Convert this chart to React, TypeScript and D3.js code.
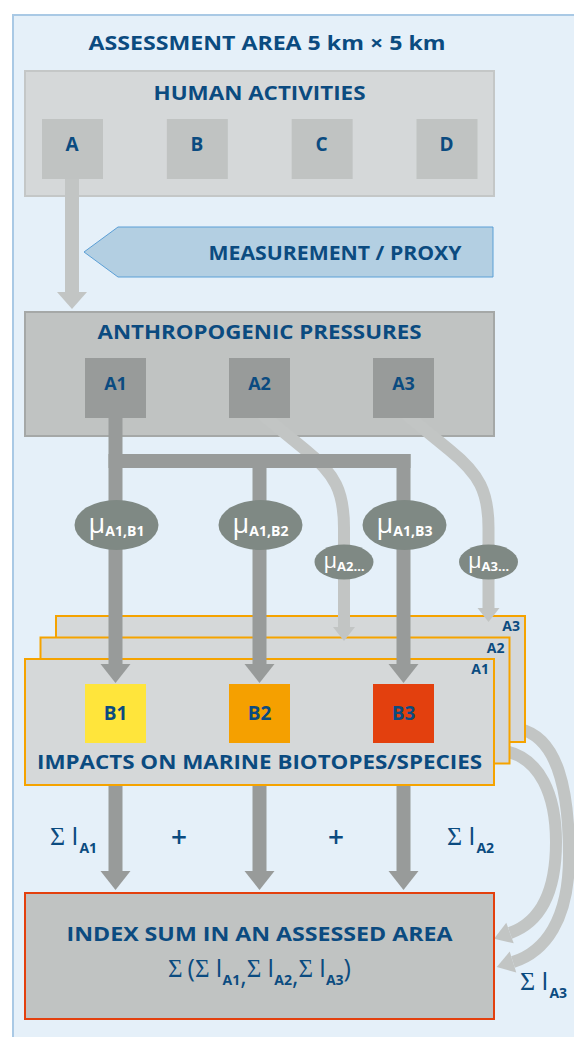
import React from "react";
import * as d3 from "d3";

// diagram content
const title = "ASSESSMENT AREA 5 km × 5 km";
const activities = ["A", "B", "C", "D"];
const pressures = ["A1", "A2", "A3"];
const biotopes = ["B1", "B2", "B3"];
const directFactors = ["A1,B1", "A1,B2", "A1,B3"];
const otherFactors = ["A2…", "A3…"];
const layers = ["A3", "A2", "A1"];
const sumLabels = ["A1", "A2", "A3"];

const biotopeFill = ["#ffe53b", "#f5a000", "#e3400e"];

const BLUE = "#0b4b80";
const LIGHT = "#c2c5c4";
const DARK = "#989b9a";
const FONT = "'Open Sans', 'Noto Sans', sans-serif";
const SIGMA = "'Liberation Serif', 'DejaVu Serif', serif";

const BOX_X = 25;
const BOX_W = 469;
const CX = BOX_X + BOX_W / 2;

const xAct = d3.scaleLinear().domain([0, activities.length - 1]).range([72, 446.5]);
const xCol = d3.scaleLinear().domain([0, pressures.length - 1]).range([115.5, 403.5]);

const downHead = (cx: number, top: number, w: number, h: number) =>
  `M${cx - w / 2},${top}L${cx + w / 2},${top}L${cx},${top + h}Z`;

// arrow head at end of a curve, pointing along (dx,dy)
const headAt = (x: number, y: number, dx: number, dy: number, len: number, half: number) => {
  const n = Math.hypot(dx, dy);
  const ux = dx / n, uy = dy / n;
  const px = -uy, py = ux;
  return `M${x + px * half},${y + py * half}L${x + ux * len},${y + uy * len}L${x - px * half},${y - py * half}Z`;
};

const Heading: React.FC<{ x: number; y: number; text: string; size: number; len?: number }> = ({ x, y, text, size, len }) => (
  <text
    x={x}
    y={y}
    textAnchor="middle"
    fontFamily={FONT}
    fontWeight={700}
    fontSize={size}
    fill={BLUE}
    textLength={len}
    lengthAdjust={len ? "spacingAndGlyphs" : undefined}
  >
    {text}
  </text>
);

const SumLabel: React.FC<{ x: number; y: number; sub: string; anchor?: string }> = ({ x, y, sub, anchor }) => (
  <text x={x} y={y} fill={BLUE} textAnchor={anchor || "start"}>
    <tspan fontFamily={SIGMA} fontSize={26}>Σ</tspan>
    <tspan fontFamily={FONT} fontSize={26} dx={6}>I</tspan>
    <tspan fontFamily={FONT} fontSize={14} fontWeight={700} dy={8} dx={1}>{sub}</tspan>
  </text>
);

const App: React.FC = () => {
  const lightPath = (x0: number, xv: number, yEnd: number) => {
    const p = d3.path();
    p.moveTo(x0, 414);
    p.lineTo(x0 + 44, 450);
    p.bezierCurveTo(x0 + 74, 474, xv, 492, xv, 528);
    p.lineTo(xv, yEnd);
    return p.toString();
  };

  const innerCurve = d3.path();
  innerCurve.moveTo(505, 751);
  innerCurve.bezierCurveTo(540, 758, 556, 795, 556, 842);
  innerCurve.bezierCurveTo(556, 895, 538, 923, 510, 933);

  const outerCurve = d3.path();
  outerCurve.moveTo(520, 729);
  outerCurve.bezierCurveTo(558, 738, 569, 790, 569, 856);
  outerCurve.bezierCurveTo(569, 920, 545, 952, 513, 962);

  return (
    <svg width={574} height={1037} style={{ position: "absolute", left: 0, top: 0 }}>
      {/* assessment panel */}
      <rect x={0} y={0} width={574} height={1037} fill="#ffffff" />
      <rect x={13} y={15} width={570} height={1030} fill="#e5f0f9" stroke="#a9c9e5" strokeWidth={2} />
      <Heading x={267} y={50} text={title} size={19} len={357} />

      {/* human activities */}
      <rect x={BOX_X} y={71} width={BOX_W} height={125} fill="#d5d8d9" stroke="#c4c7c7" strokeWidth={2} />
      <Heading x={CX} y={100} text="HUMAN ACTIVITIES" size={19} len={212} />
      <rect x={65} y={170} width={14} height={122} fill={LIGHT} />
      <path d={downHead(72, 292, 30, 17)} fill={LIGHT} />
      {activities.map((a, i) => (
        <g key={a}>
          <rect x={xAct(i) - 30} y={119} width={61} height={60} fill="#c0c3c2" />
          <text x={xAct(i)} y={151} textAnchor="middle" fontFamily={FONT} fontWeight={700} fontSize={19} fill={BLUE}>
            {a}
          </text>
        </g>
      ))}

      {/* measurement / proxy */}
      <path d="M84,252L118,227L493,227L493,277L118,277Z" fill="#b3cfe2" stroke="#5b9fd6" strokeWidth={1} />
      <Heading x={335} y={260} text="MEASUREMENT / PROXY" size={19} len={253} />

      {/* impact layers */}
      <path d={innerCurve.toString()} fill="none" stroke={LIGHT} strokeWidth={12} />
      <path d={headAt(510, 933, -28, 10, 17, 11)} fill={LIGHT} />
      <path d={outerCurve.toString()} fill="none" stroke={LIGHT} strokeWidth={12} />
      <path d={headAt(513, 962, -32, 10, 17, 11)} fill={LIGHT} />
      {layers.map((l, i) => {
        const off = layers.length - 1 - i;
        const x = BOX_X + off * 15.5;
        const y = 659 - off * 21.5;
        return (
          <g key={l}>
            <rect x={x} y={y} width={BOX_W} height={126} fill="#d5d8d9" stroke="#f5a300" strokeWidth={2} />
            <text x={x + BOX_W - 5} y={y + 15} textAnchor="end" fontFamily={FONT} fontWeight={700} fontSize={14} fill={BLUE}>
              {l}
            </text>
          </g>
        );
      })}
      {biotopes.map((b, i) => (
        <g key={b}>
          <rect x={xCol(i) - 30.5} y={684} width={61} height={59} fill={biotopeFill[i]} />
          <text x={xCol(i)} y={720} textAnchor="middle" fontFamily={FONT} fontWeight={700} fontSize={19} fill={BLUE}>
            {b}
          </text>
        </g>
      ))}
      <Heading x={CX} y={769} text="IMPACTS ON MARINE BIOTOPES/SPECIES" size={20} len={445} />

      {/* anthropogenic pressures */}
      <rect x={BOX_X} y={312} width={BOX_W} height={124} fill="#c0c3c2" stroke="#a5a8a7" strokeWidth={2} />
      <Heading x={CX} y={339} text="ANTHROPOGENIC PRESSURES" size={19} len={324} />
      <path d={lightPath(xCol(1) + 2, 344, 628)} fill="none" stroke={LIGHT} strokeWidth={12} />
      <path d={downHead(344, 627, 22, 14)} fill={LIGHT} />
      <path d={lightPath(xCol(2) + 2, 488.5, 609)} fill="none" stroke={LIGHT} strokeWidth={12} />
      <path d={downHead(488.5, 608, 22, 14)} fill={LIGHT} />
      {pressures.map((p, i) => (
        <g key={p}>
          <rect x={xCol(i) - 30.5} y={358} width={61} height={60} fill={DARK} />
          <text x={xCol(i)} y={390} textAnchor="middle" fontFamily={FONT} fontWeight={700} fontSize={18} fill={BLUE}>
            {p}
          </text>
        </g>
      ))}

      {/* A1 links to all biotopes */}
      <rect x={xCol(0) - 7} y={454} width={xCol(2) + 7 - (xCol(0) - 7)} height={14} fill={DARK} />
      {biotopes.map((b, i) => (
        <g key={b + "link"}>
          <rect x={xCol(i) - 7} y={i === 0 ? 418 : 454} width={14} height={i === 0 ? 246 : 210} fill={DARK} />
          <path d={downHead(xCol(i), 664, 30, 19)} fill={DARK} />
          <rect x={xCol(i) - 7} y={786} width={14} height={86} fill={DARK} />
          <path d={downHead(xCol(i), 871, 30, 19)} fill={DARK} />
        </g>
      ))}

      {/* sensitivity factors */}
      {directFactors.map((f, i) => (
        <g key={f}>
          <ellipse cx={xCol(i) + 1} cy={525} rx={42} ry={25} fill="#7f8984" />
          <text x={xCol(i) + 1} y={533} textAnchor="middle" fill="#ffffff" fontFamily={FONT}>
            <tspan fontSize={27}>μ</tspan>
            <tspan fontSize={14} fontWeight={700} dy={3}>{f}</tspan>
          </text>
        </g>
      ))}
      {otherFactors.map((f, i) => {
        const cx = i === 0 ? 344 : 488.5;
        return (
          <g key={f}>
            <ellipse cx={cx} cy={562} rx={29.5} ry={17.5} fill="#7f8984" />
            <text x={cx} y={568} textAnchor="middle" fill="#ffffff" fontFamily={FONT}>
              <tspan fontSize={22}>μ</tspan>
              <tspan fontSize={13} fontWeight={700} dy={3}>{f}</tspan>
            </text>
          </g>
        );
      })}

      {/* sums */}
      <SumLabel x={50} y={845} sub={sumLabels[0]} />
      <text x={179} y={847} textAnchor="middle" fontFamily={FONT} fontWeight={600} fontSize={28} fill={BLUE}>+</text>
      <text x={336} y={847} textAnchor="middle" fontFamily={FONT} fontWeight={600} fontSize={28} fill={BLUE}>+</text>
      <SumLabel x={447} y={845} sub={sumLabels[1]} />
      <SumLabel x={520} y={990} sub={sumLabels[2]} />

      {/* index sum */}
      <rect x={BOX_X} y={893} width={BOX_W} height={126} fill="#c0c3c2" stroke="#e3400e" strokeWidth={2} />
      <Heading x={CX} y={941} text="INDEX SUM IN AN ASSESSED AREA" size={20} len={386} />
      <text x={CX} y={977} textAnchor="middle" fill={BLUE} fontSize={25}>
        <tspan fontFamily={SIGMA}>Σ</tspan>
        <tspan fontFamily={FONT} dx={5}>(</tspan>
        {sumLabels.map((s, i) => (
          <React.Fragment key={s}>
            <tspan fontFamily={SIGMA} dy={i === 0 ? 0 : -8}>Σ</tspan>
            <tspan fontFamily={FONT} dx={6}>I</tspan>
            <tspan fontFamily={FONT} fontSize={14} fontWeight={700} dy={8}>{s}</tspan>
            {i < sumLabels.length - 1 ? <tspan fontFamily={FONT}>,</tspan> : null}
          </React.Fragment>
        ))}
        <tspan fontFamily={FONT} dy={-8}>)</tspan>
      </text>
    </svg>
  );
};

export default App;
